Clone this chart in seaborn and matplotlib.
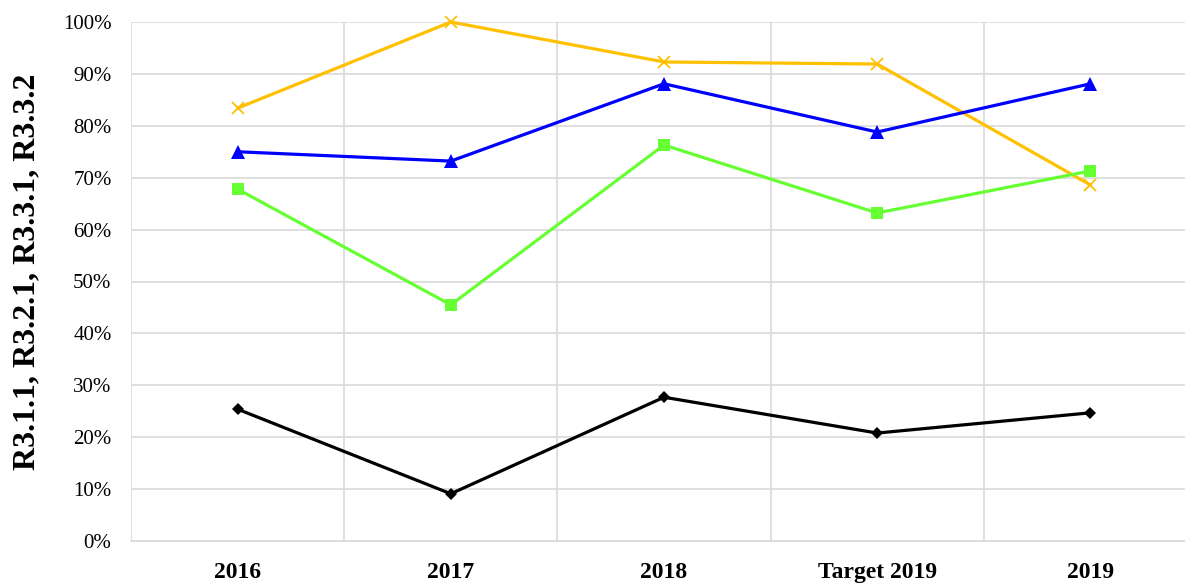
import matplotlib
matplotlib.use("Agg")
import matplotlib.pyplot as plt
import seaborn as sns
import pandas as pd
from matplotlib.ticker import FixedLocator, PercentFormatter

categories = ["2016", "2017", "2018", "Target 2019", "2019"]
series_names = ["R3.1.1", "R3.2.1", "R3.3.1", "R3.3.2"]
s_orange = [83.4, 100.0, 92.3, 91.9, 68.6]
s_blue = [75.0, 73.2, 88.1, 78.8, 88.1]
s_green = [67.8, 45.5, 76.3, 63.2, 71.3]
s_black = [25.4, 9.1, 27.7, 20.8, 24.7]
y_label = "R3.1.1, R3.2.1, R3.3.1, R3.3.2"

sns.set_style("white")
plt.rcParams['font.family'] = ['Liberation Serif', 'DejaVu Serif']
plt.rcParams['text.color'] = 'black'
plt.rcParams['axes.labelcolor'] = 'black'
plt.rcParams['xtick.color'] = 'black'
plt.rcParams['ytick.color'] = 'black'

fig = plt.figure(figsize=(11.85, 5.83), dpi=100)
W, H = 1185, 583
ax = fig.add_axes([131 / W, (H - 541) / H, (1197 - 131) / W, (541 - 22) / H])

styles = [
    (s_orange, "#FFC000", "x", 8.5, 1.3),
    (s_blue, "#0000FF", "^", 9.5, 0),
    (s_green, "#66FF33", "s", 9, 0),
    (s_black, "#000000", "D", 6.5, 0),
]
for name, (vals, col, mk, ms, mew) in zip(series_names, styles):
    df = pd.DataFrame({"x": list(range(len(categories))), "y": vals})
    sns.lineplot(data=df, x="x", y="y", ax=ax, color=col, marker=mk,
                 markersize=ms, markeredgewidth=mew if mk == "x" else 0,
                 markeredgecolor=col, linewidth=2.3, label=name, legend=False,
                 clip_on=False)

ax.set_xlim(-0.5, len(categories) - 0.5)
ax.set_ylim(0, 100)
ax.set_xticks(range(len(categories)))
ax.set_xticklabels(categories, fontsize=17, fontweight="bold")
ax.xaxis.set_minor_locator(FixedLocator([i + 0.5 for i in range(-1, len(categories))]))
ax.set_yticks(range(0, 101, 10))
ax.yaxis.set_major_formatter(PercentFormatter(decimals=0))
ax.tick_params(axis="y", labelsize=15, length=0, pad=14)
ax.tick_params(axis="x", which="both", length=0, pad=15)
ax.grid(axis="y", which="major", color="#d9d9d9", linewidth=1.2)
ax.grid(axis="x", which="minor", color="#d9d9d9", linewidth=1.2)
ax.grid(axis="x", which="major", visible=False)
ax.set_axisbelow(True)
for s in ["top", "right", "left"]:
    ax.spines[s].set_visible(False)
ax.spines["bottom"].set_color("#d9d9d9")
ax.spines["bottom"].set_linewidth(1.2)
ax.set_xlabel("")
ax.set_ylabel(y_label, fontsize=23, fontweight="bold")
ax.yaxis.set_label_coords((27 - 131) / 1066, (541 - 272) / 519)
ax.yaxis.label.set_verticalalignment("center")

fig.savefig("out.png", dpi=100)
